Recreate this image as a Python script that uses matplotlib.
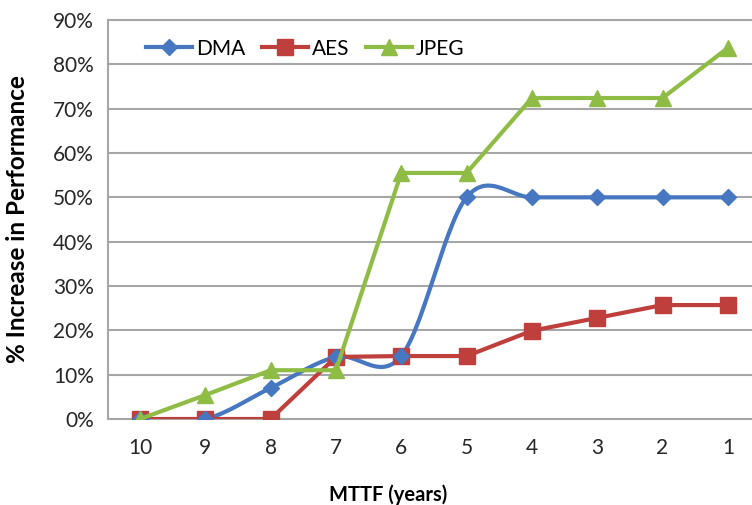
import numpy as np
import matplotlib.pyplot as plt
from matplotlib.ticker import PercentFormatter

# data
mttf = ['10', '9', '8', '7', '6', '5', '4', '3', '2', '1']
dma = [0, 0, 7, 14, 14.2, 50, 50, 50, 50, 50]
aes = [0, 0, 0, 14, 14.2, 14.2, 19.9, 22.8, 25.7, 25.7]
jpeg = [0, 5.4, 11, 11, 55.5, 55.5, 72.4, 72.4, 72.4, 83.7]

c_dma = '#4677c0'
c_aes = '#be3f3c'
c_jpeg = '#8fbc45'


def smooth(x, y, n=30):
    # catmull-rom style curve through the points (like the spreadsheet "smoothed line")
    x = np.asarray(x, float)
    y = np.asarray(y, float)
    px = np.concatenate([[x[0]], x, [x[-1]]])
    py = np.concatenate([[y[0]], y, [y[-1]]])
    xs, ys = [], []
    t = np.linspace(0, 1, n)
    for i in range(1, len(px) - 2):
        p0, p1, p2, p3 = [np.array([px[k], py[k]]) for k in (i - 1, i, i + 1, i + 2)]
        c1 = p1 + (p2 - p0) / 6
        c2 = p2 - (p3 - p1) / 6
        seg = ((1 - t) ** 3)[:, None] * p1 + (3 * (1 - t) ** 2 * t)[:, None] * c1 \
            + (3 * (1 - t) * t ** 2)[:, None] * c2 + (t ** 3)[:, None] * p2
        xs.append(seg[:, 0])
        ys.append(seg[:, 1])
    return np.concatenate(xs), np.concatenate(ys)


plt.rcParams['font.family'] = ['Lato', 'DejaVu Sans']

fig = plt.figure(figsize=(7.52, 5.05), dpi=100)
ax = fig.add_axes([108 / 752, 1 - 419 / 505, 1 - 108 / 752, (419 - 20) / 505])

xi = np.arange(len(mttf))
sx, sy = smooth(xi, dma)
ax.plot(sx, sy, color=c_dma, lw=3, zorder=3)
ax.plot(xi, dma, ls='none', marker='D', ms=8, color=c_dma, zorder=4)
ax.plot([], [], color=c_dma, lw=3, marker='D', ms=8, label='DMA')
ax.plot(xi, aes, color=c_aes, lw=3, marker='s', ms=12, zorder=3, label='AES')
ax.plot(xi, jpeg, color=c_jpeg, lw=3, marker='^', ms=12, zorder=5, label='JPEG')

ax.set_xlim(-0.49, 9.37)
ax.set_ylim(0, 90)
ax.set_yticks(np.arange(0, 91, 10))
ax.yaxis.set_major_formatter(PercentFormatter(decimals=0))
ax.set_xticks(xi)
ax.set_xticklabels(mttf)
ax.grid(axis='y', color='#a6a6a6', lw=1.5)
ax.set_axisbelow(True)
for s in ['left', 'top', 'bottom']:
    ax.spines[s].set_color('#a6a6a6')
    ax.spines[s].set_linewidth(1.5)
ax.spines['right'].set_visible(False)
ax.tick_params(length=0, labelsize=15, colors='#262626')
ax.tick_params(axis='x', pad=14)
ax.tick_params(axis='y', pad=10)

ax.set_xlabel('MTTF (years)', fontsize=14.5, fontweight='bold')
ax.xaxis.set_label_coords(0.435, -0.165)
ax.set_ylabel('% Increase in Performance', fontsize=17.5, fontweight='bold')
ax.yaxis.set_label_coords(-0.122, 0.5)

ax.legend(loc='upper left', bbox_to_anchor=(0.03, 1.0), ncol=3, frameon=False,
          fontsize=15, handlelength=2.2, handletextpad=0.2, columnspacing=0.8)

fig.savefig('out.png', dpi=100)
